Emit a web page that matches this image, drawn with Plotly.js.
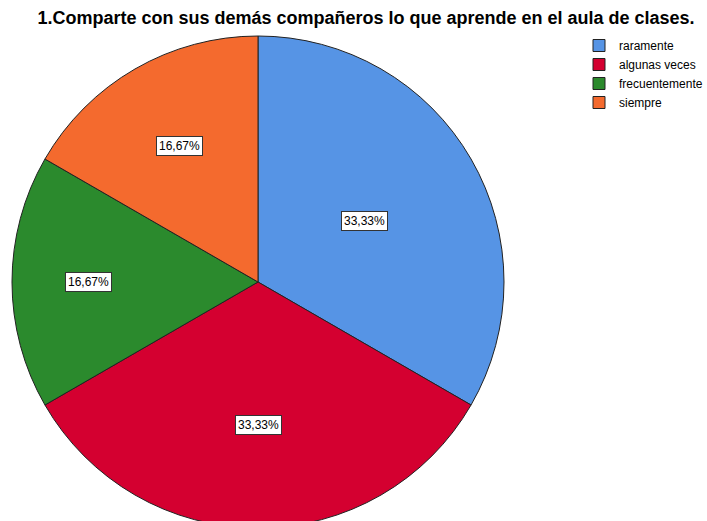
<!DOCTYPE html>
<html>
<head>
<meta charset="utf-8">
<script src="https://cdn.plot.ly/plotly-3.0.1.min.js"></script>
<style>
html,body{margin:0;padding:0;overflow:hidden;background:#fff;width:707px;height:521px;}
#chart{width:740px;height:540px;}
</style>
</head>
<body>
<div id="chart"></div>
<script>
var categories = ["raramente", "algunas veces", "frecuentemente", "siempre"];
var values = [2, 2, 1, 1];
var colors = ["#5694e5", "#d40030", "#2b8a2d", "#f46a2e"];
var titleText = "1.Comparte con sus demás compañeros lo que aprende en el aula de clases.";

// style: distance of each percentage label from the centre, as a fraction of the radius
var labelDist = [0.50, 0.58, 0.69, 0.64];

var W = 740, H = 540;
var dom = {x: [12 / W, 504 / W], y: [12 / H, 504 / H]};
var total = values.reduce(function (a, b) { return a + b; }, 0);

var cx = (dom.x[0] + dom.x[1]) / 2 * W;
var cy = (dom.y[0] + dom.y[1]) / 2 * H;
var r = (dom.x[1] - dom.x[0]) * W / 2;
var annotations = [];
var cum = 0;
values.forEach(function (v, i) {
  var mid = (cum + v / 2) / total * 2 * Math.PI;
  cum += v;
  var px = cx + Math.sin(mid) * r * labelDist[i];
  var py = cy + Math.cos(mid) * r * labelDist[i];
  annotations.push({
    x: px / W, y: py / H, xref: "paper", yref: "paper",
    xanchor: "center", yanchor: "middle",
    text: (v / total * 100).toFixed(2).replace(".", ",") + "%",
    showarrow: false,
    bgcolor: "#ffffff", bordercolor: "#333333", borderwidth: 1, borderpad: 2,
    font: {family: "Liberation Sans, Arial, sans-serif", size: 12, color: "#000"}
  });
});

var data = [{
  type: "pie",
  labels: categories,
  values: values,
  sort: false,
  direction: "clockwise",
  rotation: 0,
  textinfo: "none",
  hoverinfo: "label+percent",
  marker: {colors: colors, line: {color: "#222222", width: 1}},
  domain: dom
}];

var layout = {
  width: W, height: H,
  margin: {l: 0, r: 0, t: 0, b: 0},
  paper_bgcolor: "#ffffff",
  showlegend: true,
  title: {
    text: "<b>" + titleText + "</b>",
    x: 366 / W, xanchor: "center", xref: "paper",
    y: 1 - 18 / H, yanchor: "middle", yref: "container",
    font: {family: "Liberation Sans, Arial, sans-serif", size: 18, color: "#000"}
  },
  legend: {
    x: 579 / W, xanchor: "left", y: 1 - 31 / H, yanchor: "top",
    font: {family: "Liberation Sans, Arial, sans-serif", size: 12, color: "#000"},
    tracegroupgap: 0, itemwidth: 30,
    bgcolor: "rgba(0,0,0,0)"
  },
  annotations: annotations
};

Plotly.newPlot("chart", data, layout, {displayModeBar: false, staticPlot: true});
</script>
</body>
</html>
